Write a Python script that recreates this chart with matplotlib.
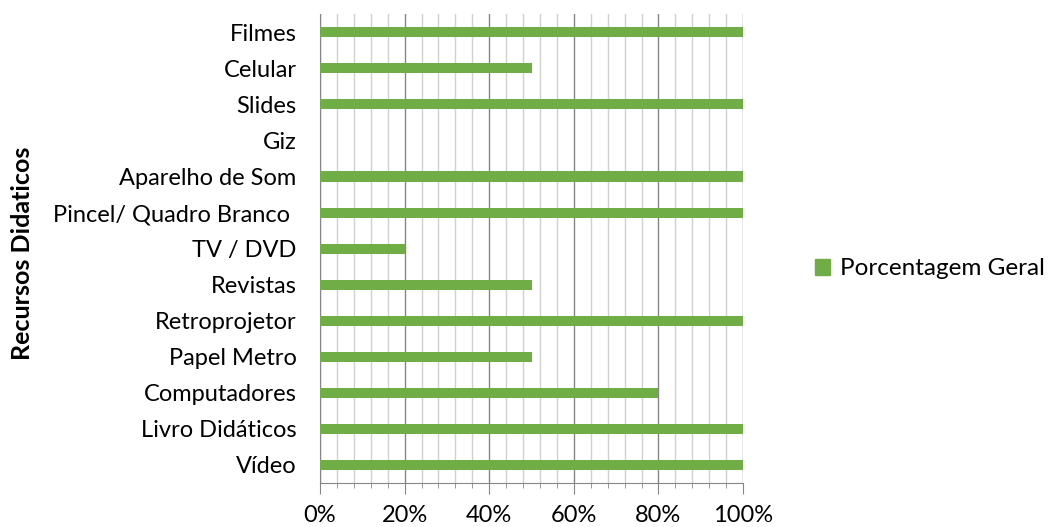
import matplotlib.pyplot as plt
import numpy as np
from matplotlib.ticker import MultipleLocator, PercentFormatter
from matplotlib.patches import Patch

plt.rcParams['font.family'] = ['Lato', 'DejaVu Sans']

categorias = ["Vídeo", "Livro Didáticos", "Computadores", "Papel Metro", "Retroprojetor",
              "Revistas", "TV / DVD", "Pincel/ Quadro Branco ", "Aparelho de Som", "Giz",
              "Slides", "Celular", "Filmes"]
porcentagem = [100, 100, 80, 50, 100, 50, 20, 100, 100, 0, 100, 50, 100]

verde = "#70ad47"

fig = plt.figure(figsize=(10.51, 5.27), dpi=100)
ax = fig.add_axes([0.3045, 0.0835, 0.4025, 0.8895])

y = np.arange(len(categorias))
ax.barh(y, porcentagem, height=0.28, color=verde, zorder=3)

ax.set_xlim(0, 100)
ax.set_ylim(-0.5, len(categorias) - 0.5)
ax.set_yticks(y)
ax.set_yticklabels(categorias, fontsize=17)
ax.xaxis.set_major_locator(MultipleLocator(20))
ax.xaxis.set_minor_locator(MultipleLocator(4))
ax.xaxis.set_major_formatter(PercentFormatter(decimals=0))
ax.tick_params(axis='x', which='major', length=8, color='#868686', labelsize=17, pad=8)
ax.tick_params(axis='x', which='minor', length=3.5, color='#868686')
ax.tick_params(axis='y', length=0, pad=17)

ax.grid(which='major', axis='x', color='#868686', linewidth=1, zorder=1)
ax.grid(which='minor', axis='x', color='#d0d0d0', linewidth=1, zorder=1)

for s in ['top', 'right']:
    ax.spines[s].set_visible(False)
ax.spines['left'].set_color('#868686')
ax.spines['bottom'].set_color('#868686')

fig.text(0.021, 0.52, "Recursos Didaticos", rotation=90, fontsize=18,
         fontweight='bold', ha='center', va='center')

fig.legend(handles=[Patch(color=verde, label="Porcentagem Geral")],
           loc='center left', bbox_to_anchor=(0.775, 0.49), frameon=False,
           fontsize=17.5, handlelength=0.65, handleheight=0.65, handletextpad=0.4,
           borderpad=0, borderaxespad=0)

fig.savefig("out.png", dpi=100)
